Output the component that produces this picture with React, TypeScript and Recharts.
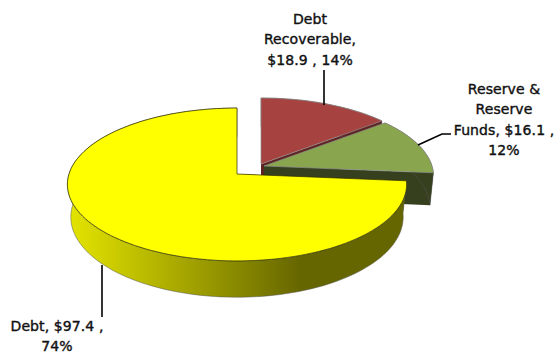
import React from 'react';
import { PieChart, Pie, Cell } from 'recharts';

// Chart data, order is clockwise from 12 o'clock
const categories = ['Debt Recoverable', 'Reserve & Reserve Funds', 'Debt'];
const amounts = [18.9, 16.1, 97.4];
const labelLines = [
  ['Debt', 'Recoverable,', '$18.9 , 14%'],
  ['Reserve &', 'Reserve', 'Funds, $16.1 ,', '12%'],
  ['Debt, $97.4 ,', '74%'],
];

const tableData = categories.map((name, i) => ({ name, value: amounts[i] }));

// Slice colours
const topColors = ['#a64341', '#89a54e', '#ffff00'];
const sideColors = ['#5e2422', '#36401f', 'url(#debtSide)'];
const edgeColors = ['#8d8d8d', '#8d8d8d', '#2a2a00'];

// 3D look: how far a slice is pulled out, and the label placement
const explode = [{ dx: 24, dy: -10 }, { dx: 27, dy: -8 }, { dx: 0, dy: 0 }];
const labelPos = [
  { x: 310, y: 24, line: [[324, 70], [324, 105]] },
  { x: 504, y: 94, line: [[418, 145], [442, 134], [451, 134]] },
  { x: 57, y: 331, line: [[102, 265], [102, 317]] },
];

const RAD = Math.PI / 180;
const PERSPECTIVE = 0.137;
const DEPTH = 32;

// circle point -> tilted plane, far side is squeezed a little
const project = (cx: number, cy: number, r: number, deg: number, bottom: boolean) => {
  const u = Math.cos(deg * RAD);
  const v = Math.sin(deg * RAD);
  const w = 1 + PERSPECTIVE * v;
  const a = r * 1.68 * (bottom ? 0.98 : 1);
  const b = r * 0.75 * (bottom ? 1.05 : 1);
  return [cx + (a * u) / w, cy + (bottom ? DEPTH : 0) - (b * v) / w];
};

const toPath = (pts: number[][]) =>
  'M' + pts.map((p) => `${p[0].toFixed(1)},${p[1].toFixed(1)}`).join('L') + 'Z';

const Slice3D = (props: any) => {
  const { startAngle, endAngle, outerRadius, name, payload } = props;
  const idx = categories.indexOf(name ?? payload?.name);
  const cx = props.cx + explode[idx].dx;
  const cy = props.cy + explode[idx].dy;

  const steps = Math.ceil(Math.abs(endAngle - startAngle) / 2);
  const top: number[][] = [];
  const low: number[][] = [];
  for (let i = 0; i <= steps; i++) {
    const deg = startAngle + ((endAngle - startAngle) * i) / steps;
    top.push(project(cx, cy, outerRadius, deg, false));
    low.push(project(cx, cy, outerRadius, deg, true));
  }
  const apexTop = [cx, cy];
  const apexLow = [cx, cy + DEPTH];

  return (
    <g>
      <defs>
        <linearGradient id="debtSide" gradientUnits="userSpaceOnUse" x1="62" y1="0" x2="300" y2="0">
          <stop offset="0" stopColor="#e8e800" />
          <stop offset="1" stopColor="#666600" />
        </linearGradient>
      </defs>
      <path d={toPath([apexTop, top[0], low[0], apexLow])} fill={sideColors[idx]} />
      <path d={toPath([apexTop, top[steps], low[steps], apexLow])} fill={sideColors[idx]} />
      <path
        d={toPath([...top, ...[...low].reverse()])}
        fill={sideColors[idx]}
        stroke="#555"
        strokeWidth={0.5}
      />
      <path
        d={toPath([apexTop, ...top])}
        fill={topColors[idx]}
        stroke={edgeColors[idx]}
        strokeWidth={0.7}
      />
    </g>
  );
};

const renderLabel = (props: any) => {
  const idx = categories.indexOf(props.name ?? props.payload?.name);
  const pos = labelPos[idx];
  return (
    <g key={idx}>
      <polyline
        points={pos.line.map((p) => p.join(',')).join(' ')}
        fill="none"
        stroke="#000"
        strokeWidth={1.6}
      />
      <text
        x={pos.x}
        y={pos.y}
        textAnchor="middle"
        fontFamily="'DejaVu Sans', sans-serif"
        fontSize={14}
        letterSpacing={0.1}
        fill="#111"
        stroke="#111"
        strokeWidth={0.4}
      >
        {labelLines[idx].map((line, i) => (
          <tspan key={i} x={pos.x} dy={i === 0 ? 0 : 20.4}>
            {line}
          </tspan>
        ))}
      </text>
    </g>
  );
};

export default function App() {
  return (
    <div style={{ position: 'absolute', left: 0, top: 0, width: 555, height: 353, overflow: 'hidden', background: '#fff' }}>
      <PieChart width={555} height={353} margin={{ top: 0, right: 0, bottom: 0, left: 0 }}>
        <Pie
          data={tableData}
          dataKey="value"
          nameKey="name"
          cx={237}
          cy={174}
          outerRadius={100}
          startAngle={90}
          endAngle={-270}
          stroke="none"
          shape={Slice3D}
          label={renderLabel}
          labelLine={false}
          isAnimationActive={false}
        >
          {tableData.map((entry, i) => (
            <Cell key={entry.name} fill={topColors[i]} />
          ))}
        </Pie>
      </PieChart>
    </div>
  );
}
